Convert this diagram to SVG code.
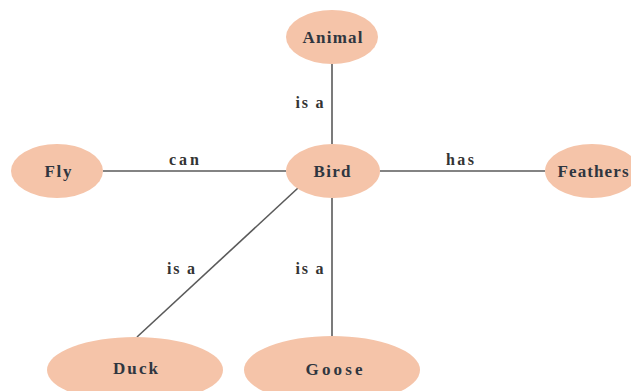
<svg xmlns="http://www.w3.org/2000/svg" width="631" height="391" viewBox="0 0 631 391">
<style>
.n{fill:#f5c4a9;stroke:none}
.t{font-family:"Liberation Serif","DejaVu Serif",serif;font-weight:bold;font-size:17px;fill:#2f3640;text-anchor:middle;dominant-baseline:central}
.l{font-family:"Liberation Serif","DejaVu Serif",serif;font-weight:bold;font-size:16px;fill:#333;text-anchor:middle;dominant-baseline:central}
.e{stroke:#5a5a5a;stroke-width:1.6;fill:none}
</style>
<rect width="631" height="391" fill="#fff"/>
<g id="connectors">
<line class="e" x1="332" y1="64" x2="332" y2="144"/>
<line class="e" x1="103" y1="171" x2="286" y2="171"/>
<line class="e" x1="380" y1="171" x2="545" y2="171"/>
<line class="e" x1="298" y1="188" x2="137" y2="337"/>
<line class="e" x1="332" y1="198" x2="332" y2="336"/>
<text class="l" x="309.5" y="102" textLength="28" lengthAdjust="spacing">is a</text>
<text class="l" x="184" y="159" textLength="30" lengthAdjust="spacing">can</text>
<text class="l" x="460" y="159" textLength="28" lengthAdjust="spacing">has</text>
<text class="l" x="181" y="268" textLength="28" lengthAdjust="spacing">is a</text>
<text class="l" x="309.5" y="268" textLength="28" lengthAdjust="spacing">is a</text>
</g>
<g id="animal"><ellipse class="n" cx="332" cy="37" rx="46" ry="27"/><text class="t" x="332.5" y="37" textLength="60" lengthAdjust="spacing">Animal</text></g>
<g id="fly"><ellipse class="n" cx="57" cy="171" rx="46" ry="27"/><text class="t" x="58" y="171" textLength="27" lengthAdjust="spacing">Fly</text></g>
<g id="bird"><ellipse class="n" cx="333" cy="171" rx="47" ry="27"/><text class="t" x="332" y="171" textLength="37" lengthAdjust="spacing">Bird</text></g>
<g id="feathers"><ellipse class="n" cx="592" cy="171" rx="47" ry="27"/><text class="t" x="593" y="171" textLength="71" lengthAdjust="spacing">Feathers</text></g>
<g id="duck"><ellipse class="n" cx="135" cy="370" rx="88" ry="33"/><text class="t" x="135.5" y="368" textLength="45" lengthAdjust="spacing">Duck</text></g>
<g id="goose"><ellipse class="n" cx="332" cy="370" rx="88" ry="34"/><text class="t" x="334" y="369" textLength="57" lengthAdjust="spacing">Goose</text></g>
</svg>
